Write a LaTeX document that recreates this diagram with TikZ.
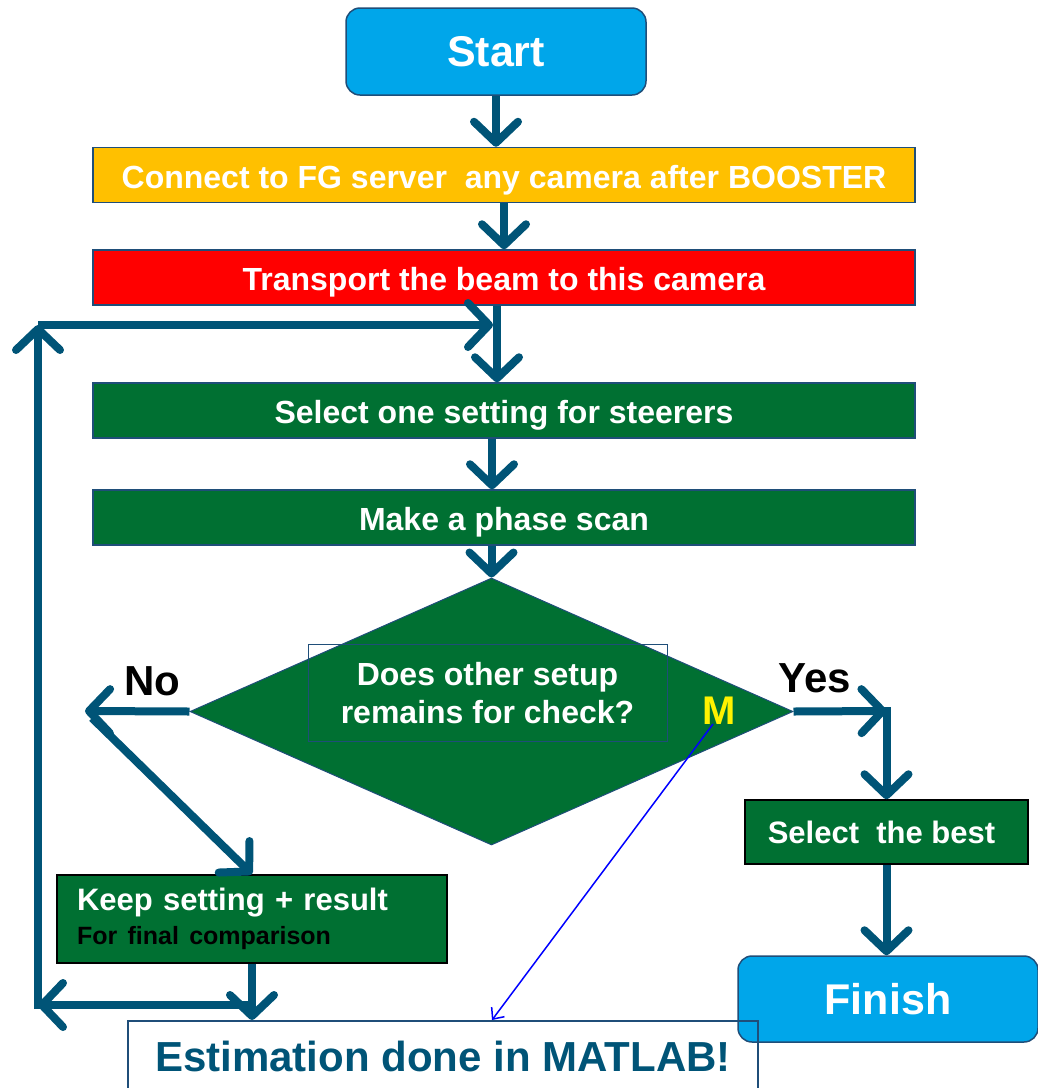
\documentclass[tikz,border=0pt]{standalone}
\usepackage{fontspec}
\setmainfont{Liberation Sans}
\usetikzlibrary{shapes.geometric, arrows.meta, positioning}
\definecolor{flowblue}{RGB}{0,84,119}
\definecolor{edgeblue}{RGB}{31,78,121}
\definecolor{boxgreen}{RGB}{0,112,50}
\definecolor{startcyan}{RGB}{0,166,234}
\definecolor{goldbar}{RGB}{255,192,0}
\definecolor{redbar}{RGB}{255,0,0}
\tikzset{
  bar/.style={rectangle, draw=edgeblue, line width=1.5pt, minimum width=822pt,
              minimum height=55pt, text=white, inner sep=0pt,
              text height=26pt, text depth=0pt,
              font=\fontsize{32}{38}\selectfont\bfseries},
  terminal/.style={rectangle, rounded corners=14pt, draw=edgeblue, line width=1.5pt,
                   fill=startcyan, minimum width=300pt, minimum height=87pt,
                   text=white, font=\fontsize{43}{50}\selectfont\bfseries},
  greenbox/.style={rectangle, draw=black, line width=1.5pt, fill=boxgreen,
                   text=white, font=\fontsize{31}{36}\selectfont\bfseries},
  answer/.style={text=black, font=\fontsize{42}{48}\selectfont\bfseries},
  flow/.style={draw=flowblue, line width=8pt,
               -{Straight Barb[length=21pt, width=44pt, round]}},
  pointer/.style={draw=blue, line width=1.5pt,
                  -{Straight Barb[length=9pt, width=16pt]}},
}

\begin{document}
\begin{tikzpicture}[x=1pt, y=-1pt]
  \clip (0,0) rectangle (1038,1088);

  % Top node
  \node[terminal] (start) at (496,51.5) {Start};

  % Straight chain of steps
  \node[bar, fill=goldbar] (connect) at (504,175)
    {Connect to FG server\ \ any camera after BOOSTER};
  \node[bar, fill=redbar] (transport) at (504,277.5)
    {Transport the beam to this camera};
  \node[bar, fill=boxgreen] (select) at (504,410.5)
    {Select one setting for steerers};
  \node[bar, fill=boxgreen] (phase) at (504,517.5)
    {Make a phase scan};

  % Decision
  \node[diamond, draw=edgeblue, line width=1pt, fill=boxgreen, inner sep=0pt,
        minimum width=603pt, minimum height=267pt] (check) at (491.5,711.5) {};
  \node[rectangle, draw=edgeblue, line width=1pt, minimum width=359pt,
        minimum height=97pt, text=white, align=center,
        font=\fontsize{32}{38}\selectfont\bfseries] (query) at (487.5,693)
    {Does other setup\\remains for check?};
  \node[answer] (no) at (152,681) {No};
  \node[answer] (yes) at (815,678) {Yes};
  \node[text=yellow, font=\fontsize{40}{46}\selectfont\bfseries] (mark) at (719,711) {M};

  % Branch boxes
  \node[greenbox, minimum width=390pt, minimum height=88pt, text width=350pt,
        inner xsep=20pt, align=left] (keep) at (252,919)
    {Keep setting + result\\[-2pt]{\color{black}\fontsize{25}{30}\selectfont For final comparison}};
  \node[greenbox, minimum width=283pt, minimum height=64pt] (best) at (886.5,832)
    {\hspace*{-10pt}Select\ \ the best};
  \node[terminal, minimum width=300pt, minimum height=86pt] (finish) at (888,999) {Finish};

  % Bottom note
  \node[rectangle, draw=edgeblue, line width=1.5pt, anchor=north,
        minimum width=630pt, minimum height=72pt, text=flowblue,
        font=\fontsize{42}{48}\selectfont\bfseries] (est) at (443,1020)
    {Estimation done in MATLAB!};

  % Turning points
  \coordinate (loopTop) at (38,325);
  \coordinate (loopBot) at (38,1005);
  \coordinate (merge) at (497,325);
  \coordinate (noturn) at (85,711);
  \coordinate (yesturn) at (886.5,711);

  % Arrows
  \draw[flow] (start.south) -- (start.south |- connect.north);
  \draw[flow] (connect.south) -- (transport.north);
  \draw[flow] (merge |- transport.south) -- (merge |- select.north);
  \draw[flow] ([xshift=-12pt]select.south) -- ([xshift=-12pt]select.south |- phase.north);
  \draw[flow] (check.north |- phase.south) -- (check.north);
  \draw[flow] (check.west) -- (noturn);
  \draw[flow] ([shift={(7pt,-7pt)}]noturn) -- (keep.north);
  \draw[flow] (check.east) -- (yesturn);
  \draw[flow] ([yshift=4pt]yesturn) -- (best.north);
  \draw[flow] (best.south) -- (best.south |- finish.north);
  \draw[flow] (keep.south) -- (keep.south |- est.north);

  % Loop back
  \draw[flow] (keep.south |- loopBot) -- (loopBot);
  \draw[flow] ([yshift=-4pt]loopBot) -- (loopTop);
  \draw[flow] (loopTop) -- ([xshift=-4pt]merge);

  % MATLAB pointer
  \draw[pointer] ([shift={(-6pt,-13pt)}]mark.center) -- ([xshift=49pt]est.north);
\end{tikzpicture}
\end{document}
